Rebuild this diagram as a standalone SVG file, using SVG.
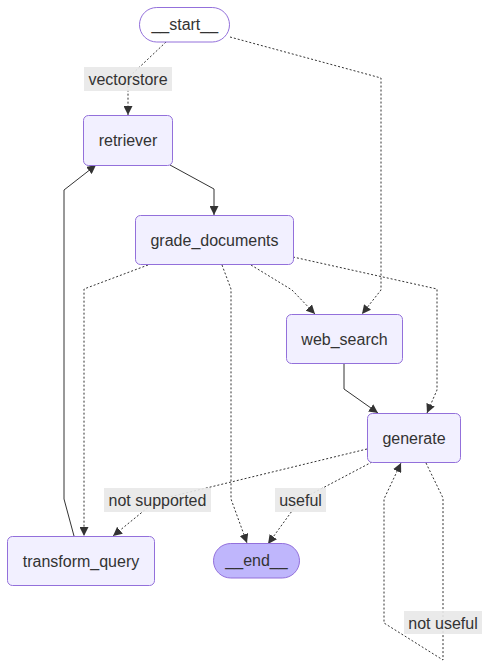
<svg xmlns="http://www.w3.org/2000/svg" width="491" height="668" viewBox="0 0 491 668">
<style>
.node rect{fill:#f2f0ff;stroke:#9370db;stroke-width:1}
.first rect{fill:#ffffff;fill-opacity:0}
.last rect{fill:#bfb6fc}
text{font-family:"Liberation Sans",Arial,sans-serif;font-size:16px;fill:#333;text-anchor:middle;dominant-baseline:central}
.edge{fill:none;stroke:#333;stroke-width:1;marker-end:url(#arr)}
.dot{stroke-dasharray:2 2}
.lbl rect{fill:#e8e8e8;fill-opacity:0.9}
</style>
<defs>
<marker id="arr" viewBox="0 0 10 10" refX="10" refY="5" markerWidth="9" markerHeight="9" markerUnits="userSpaceOnUse" orient="auto">
<path d="M0,0 L10,5 L0,10 z" fill="#333"/>
</marker>
</defs>
<rect width="491" height="668" fill="#ffffff"/>
<g id="edges">
<path class="edge dot" d="M166,42 L128,78 L128,115"/>
<path class="edge dot" d="M230,37 L381,78 L381,290 L362,314"/>
<path class="edge" d="M170,165 L214,189 L214,215"/>
<path class="edge dot" d="M148,265 L84,289 L84,536"/>
<path class="edge dot" d="M222,265 L231,289 L231,499 L247,543"/>
<path class="edge dot" d="M251,265 L292,290 L315,314"/>
<path class="edge dot" d="M293,257 L437,289 L437,390 L427,413"/>
<path class="edge" d="M344,364 L344,389 L378,413"/>
<path class="edge" d="M74,536 L64,499 L64,190 L96,165"/>
<path class="edge dot" d="M367,449 L157,500 L113,536"/>
<path class="edge dot" d="M372,462 L300,500 L268,544"/>
<path class="edge dot" d="M426,463 L443,498 L443,660 L384,623 L384,499 L401,463"/>
</g>
<g id="edge-labels">
<g class="lbl"><rect x="84" y="67" width="88" height="24"/><text x="128" y="79">vectorstore</text></g>
<g class="lbl"><rect x="104" y="488" width="107" height="24"/><text x="157.5" y="500">not supported</text></g>
<g class="lbl"><rect x="275" y="488" width="51" height="24"/><text x="300.5" y="500">useful</text></g>
<g class="lbl"><rect x="404" y="611" width="78" height="23"/><text x="443" y="623">not useful</text></g>
</g>
<g id="start" class="node first"><rect x="139.5" y="7.5" width="90" height="34.5" rx="17.25"/><text x="184.75" y="24.75">__start__</text></g>
<g id="retriever" class="node"><rect x="83.5" y="115.5" width="89" height="50" rx="5"/><text x="128" y="140.5">retriever</text></g>
<g id="grade_documents" class="node"><rect x="135.5" y="215.5" width="158" height="49" rx="5"/><text x="214.5" y="240">grade_documents</text></g>
<g id="web_search" class="node"><rect x="286.5" y="314.5" width="116" height="49" rx="5"/><text x="344.5" y="339">web_search</text></g>
<g id="generate" class="node"><rect x="367.5" y="413.5" width="93" height="49" rx="5"/><text x="414" y="438">generate</text></g>
<g id="transform_query" class="node"><rect x="7.5" y="536.5" width="147" height="49" rx="5"/><text x="81" y="561">transform_query</text></g>
<g id="end" class="node last"><rect x="213.5" y="543.5" width="86" height="34.5" rx="17.25"/><text x="256.5" y="560.75">__end__</text></g>
</svg>
